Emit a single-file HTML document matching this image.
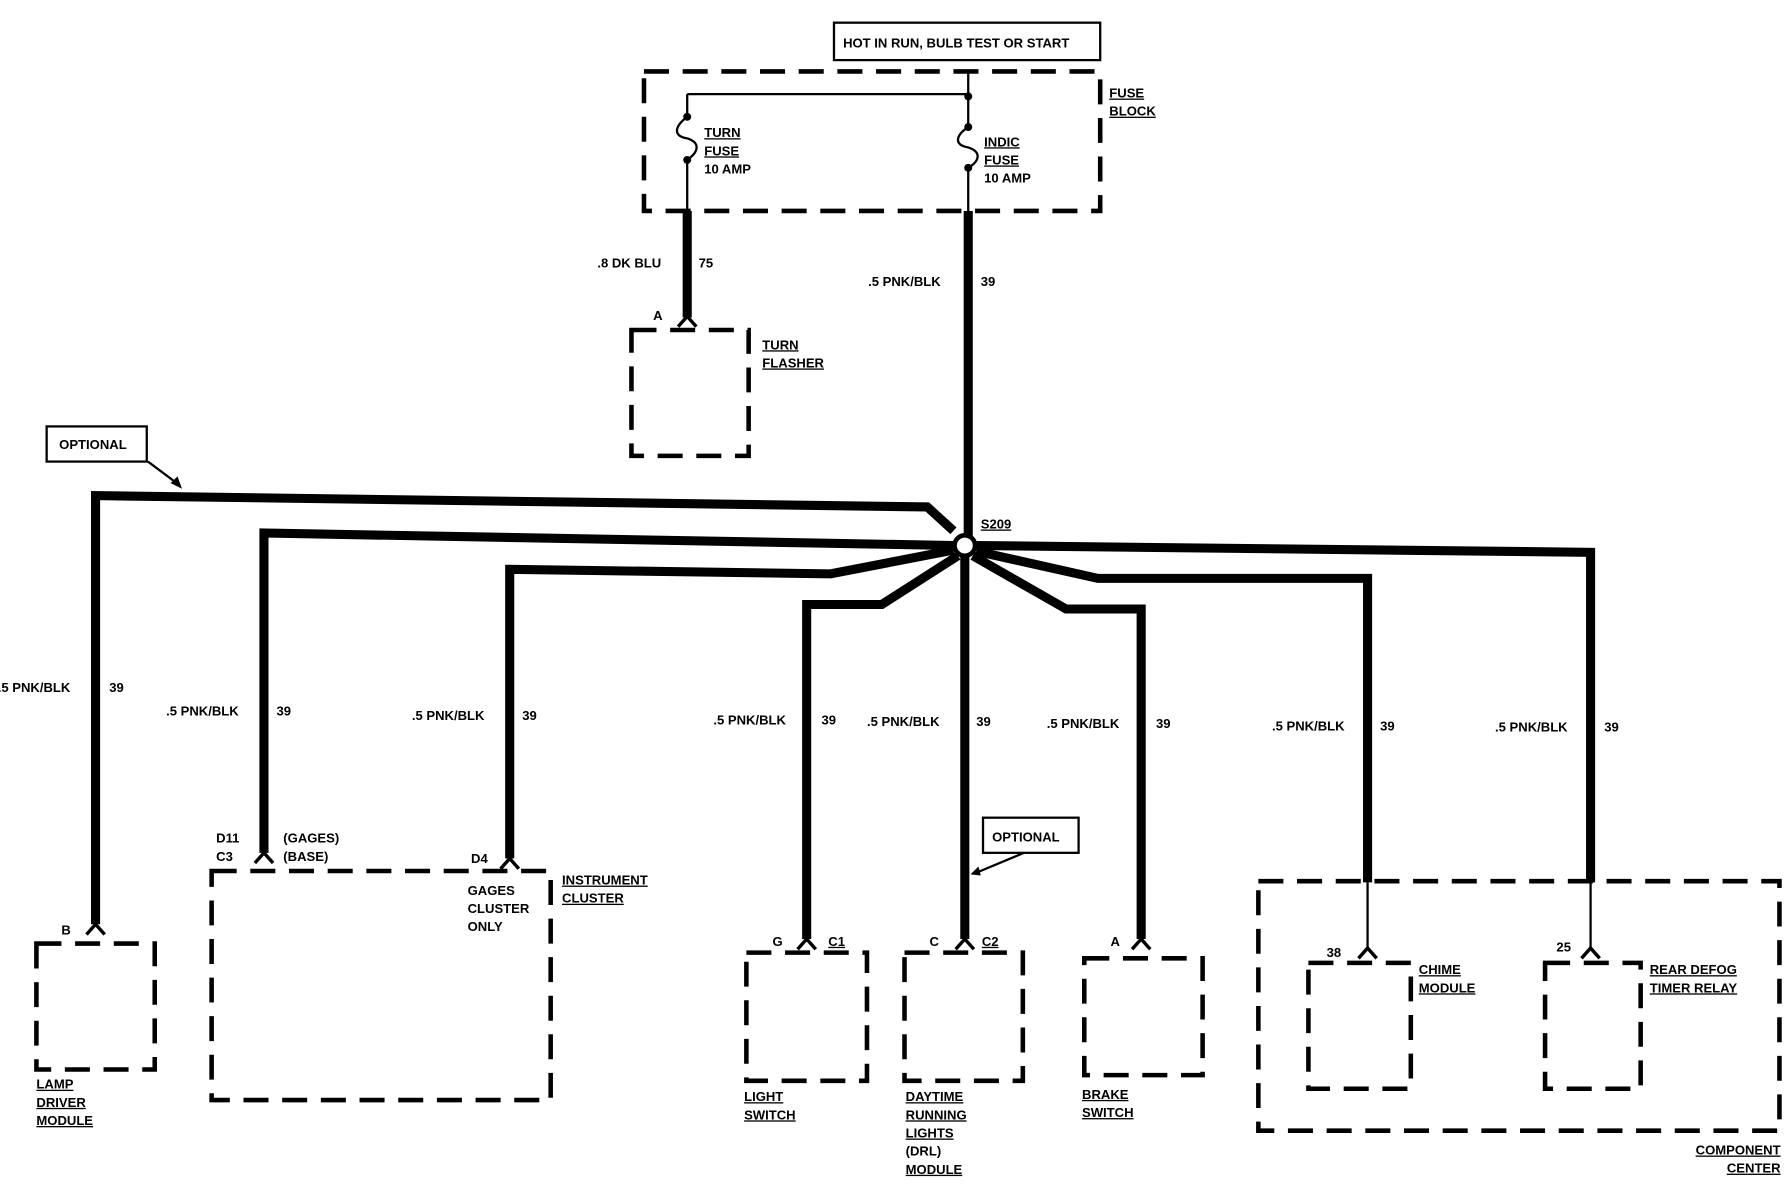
<!DOCTYPE html>
<html><head><style>
html,body{margin:0;padding:0;background:#fff;}
svg{display:block;}
text{font-family:"Liberation Sans",sans-serif;font-weight:bold;font-size:11.5px;fill:#000;}
.u{text-decoration:underline;}
</style></head><body>
<svg width="1784" height="1184" viewBox="0 0 1568 1044" preserveAspectRatio="none" xmlns="http://www.w3.org/2000/svg">
<g fill="none" stroke="#000">
<rect x="733" y="20" width="234" height="33" stroke-width="2"/>
<g stroke-width="4" stroke-dasharray="22,12">
<rect x="566" y="63" width="401" height="123"/>
<rect x="555" y="291" width="103" height="111"/>
<rect x="32" y="832" width="104" height="111"/>
<rect x="186" y="768" width="298" height="202"/>
<rect x="656" y="840" width="106" height="113"/>
<rect x="795" y="840" width="104" height="113"/>
<rect x="953" y="845" width="104" height="103"/>
<rect x="1106" y="777" width="458" height="220"/>
<rect x="1150" y="849" width="90" height="111"/>
<rect x="1358" y="849" width="84" height="111"/>
</g>
<g stroke-width="2">
<path d="M851 63 V85 M604 83 H851 M604 83 V103 M604 141 V186 M851 85 V112 M851 148 V186"/>
<path d="M604 103 C592 112,592 120,604 122 C616 126,614 134,604 141"/>
<path d="M851 112 C839 120,839 128,851 130 C863 134,861 142,851 148"/>
<path d="M1202 778 V836 M1398 778 V836"/>
<path d="M130 407 L158 428 M900 752 L857 770"/>
</g>
<g fill="#000" stroke="none">
<circle cx="604" cy="103" r="3.5"/><circle cx="604" cy="141" r="3.5"/>
<circle cx="851" cy="85" r="3.5"/><circle cx="851" cy="112" r="3.5"/><circle cx="851" cy="148" r="3.5"/>
<path d="M160 431 L150 426 L156 420Z"/><path d="M853 771 L860 764 L862 772Z"/>
</g>
<rect x="41" y="376" width="88" height="31" stroke-width="2"/>
<rect x="864" y="721" width="84" height="31" stroke-width="2"/>
<g stroke-width="8" stroke-linejoin="miter">
<path d="M604 186 V280"/>
<path d="M851 186 V473"/>
<path d="M84 815 V437 L815 447 L838 468"/>
<path d="M232 752 V470 L838 481"/>
<path d="M448 757 V502 L730 506 L838 485"/>
<path d="M709 828 V533 L775 533 L842 490"/>
<path d="M848 490 V828"/>
<path d="M855 490 L937 537 H1003 V828"/>
<path d="M858 486 L965 510 H1202 V778"/>
<path d="M858 481 L1398 487 V778"/>
</g>
<circle cx="848" cy="481" r="9" fill="#fff" stroke-width="4"/>
<g stroke-width="3">
<path d="M596 288 L604 279 L612 288"/>
<path d="M76 824 L84 815 L92 824"/>
<path d="M224 761 L232 752 L240 761"/>
<path d="M440 766 L448 757 L456 766"/>
<path d="M701 837 L709 828 L717 837"/>
<path d="M840 837 L848 828 L856 837"/>
<path d="M995 837 L1003 828 L1011 837"/>
<path d="M1194 845 L1202 836 L1210 845"/>
<path d="M1390 845 L1398 836 L1406 845"/>
</g>
</g>
<text x="741" y="42">HOT IN RUN, BULB TEST OR START</text>
<text x="975" y="86" class="u">FUSE</text><text x="975" y="102" class="u">BLOCK</text>
<text x="619" y="121" class="u">TURN</text><text x="619" y="137" class="u">FUSE</text><text x="619" y="153">10 AMP</text>
<text x="865" y="129" class="u">INDIC</text><text x="865" y="145" class="u">FUSE</text><text x="865" y="161">10 AMP</text>
<text x="525" y="236">.8 DK BLU</text><text x="614" y="236">75</text>
<text x="763" y="252">.5 PNK/BLK</text><text x="862" y="252">39</text>
<text x="574" y="282">A</text>
<text x="670" y="308" class="u">TURN</text><text x="670" y="324" class="u">FLASHER</text>
<text x="52" y="396">OPTIONAL</text>
<text x="862" y="466" class="u">S209</text>
<text x="-2" y="610">.5 PNK/BLK</text><text x="96" y="610">39</text>
<text x="146" y="631">.5 PNK/BLK</text><text x="243" y="631">39</text>
<text x="362" y="635">.5 PNK/BLK</text><text x="459" y="635">39</text>
<text x="627" y="639">.5 PNK/BLK</text><text x="722" y="639">39</text>
<text x="762" y="640">.5 PNK/BLK</text><text x="858" y="640">39</text>
<text x="920" y="642">.5 PNK/BLK</text><text x="1016" y="642">39</text>
<text x="1118" y="644">.5 PNK/BLK</text><text x="1213" y="644">39</text>
<text x="1314" y="645">.5 PNK/BLK</text><text x="1410" y="645">39</text>
<text x="872" y="742">OPTIONAL</text>
<text x="190" y="743">D11</text><text x="190" y="759">C3</text>
<text x="249" y="743">(GAGES)</text><text x="249" y="759">(BASE)</text>
<text x="414" y="761">D4</text>
<text x="411" y="789">GAGES</text><text x="411" y="805">CLUSTER</text><text x="411" y="821">ONLY</text>
<text x="494" y="780" class="u">INSTRUMENT</text><text x="494" y="796" class="u">CLUSTER</text>
<text x="54" y="824">B</text>
<text x="32" y="960" class="u">LAMP</text><text x="32" y="976" class="u">DRIVER</text><text x="32" y="992" class="u">MODULE</text>
<text x="679" y="834">G</text><text x="728" y="834" class="u">C1</text>
<text x="817" y="834">C</text><text x="863" y="834" class="u">C2</text>
<text x="976" y="834">A</text>
<text x="654" y="971" class="u">LIGHT</text><text x="654" y="987" class="u">SWITCH</text>
<text x="796" y="971" class="u">DAYTIME</text><text x="796" y="987" class="u">RUNNING</text><text x="796" y="1003" class="u">LIGHTS</text><text x="796" y="1019">(DRL)</text><text x="796" y="1035" class="u">MODULE</text>
<text x="951" y="969" class="u">BRAKE</text><text x="951" y="985" class="u">SWITCH</text>
<text x="1166" y="844">38</text><text x="1368" y="839">25</text>
<text x="1247" y="859" class="u">CHIME</text><text x="1247" y="875" class="u">MODULE</text>
<text x="1450" y="859" class="u">REAR DEFOG</text><text x="1450" y="875" class="u">TIMER RELAY</text>
<text x="1565" y="1018" text-anchor="end" class="u">COMPONENT</text><text x="1565" y="1034" text-anchor="end" class="u">CENTER</text>
</svg>
</body></html>
